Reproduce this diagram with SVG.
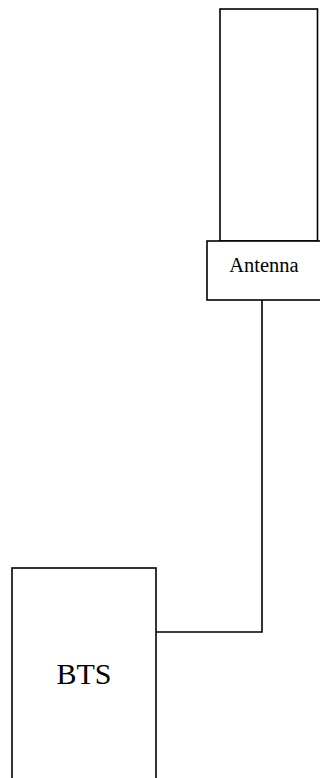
<svg xmlns="http://www.w3.org/2000/svg" width="320" height="778" viewBox="0 0 320 778">
  <style>
    .box { fill: #ffffff; stroke: #000000; stroke-width: 1.6; }
    .wire { fill: none; stroke: #000000; stroke-width: 1.6; }
    .label { font-family: "Liberation Serif", "Times New Roman", serif; fill: #000000; text-anchor: middle; }
  </style>
  <rect width="320" height="778" fill="#ffffff"/>
  <g id="connectors">
    <polyline class="wire" points="262,300 262,632 156,632"/>
  </g>
  <g id="mast">
    <rect class="box" x="220" y="9" width="97.5" height="232"/>
  </g>
  <g id="antenna">
    <rect class="box" x="207" y="241" width="115" height="59"/>
    <text class="label" x="264" y="272" font-size="20.5">Antenna</text>
  </g>
  <g id="bts">
    <rect class="box" x="12" y="568" width="144" height="220"/>
    <text class="label" x="84" y="684" font-size="30">BTS</text>
  </g>
</svg>
